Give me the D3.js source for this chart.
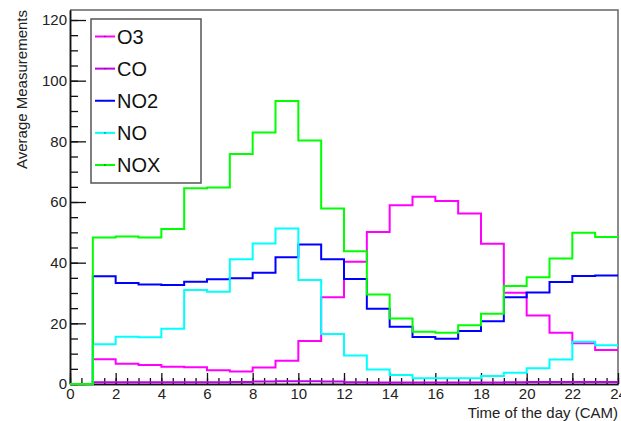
<!DOCTYPE html>
<html>
<head>
<meta charset="utf-8">
<script src="https://cdn.jsdelivr.net/npm/d3@7"></script>
<style>
  body { margin: 0; background: #fff; }
  svg { font-family: "Liberation Sans", Arial, sans-serif; }
</style>
</head>
<body>
<svg width="621" height="421"></svg>
<script>
// hourly bins 0..23
const hours = d3.range(0, 24)
const o3  = [0, 8.2, 6.7, 6.3, 5.7, 5.5, 4.5, 4.1, 5.4, 7.7, 14.2, 28.6, 40.3, 50.1, 58.9, 61.7, 60.3, 56.2, 46.2, 30.1, 22.6, 16.9, 13.4, 11.2]
const co  = [0, 0.6, 0.6, 0.6, 0.6, 0.6, 0.6, 0.7, 0.8, 0.9, 0.9, 0.8, 0.6, 0.5, 0.5, 0.5, 0.5, 0.5, 0.5, 0.6, 0.7, 0.7, 0.7, 0.7]
const no2 = [0, 35.5, 33.3, 32.8, 32.6, 33.7, 34.5, 34.9, 36.7, 41.8, 46.0, 41.1, 34.6, 24.8, 18.9, 15.5, 14.9, 17.5, 20.7, 28.6, 30.2, 33.6, 35.6, 35.8]
const no  = [0, 13.1, 15.6, 15.4, 18.2, 31.0, 30.4, 41.1, 46.3, 51.3, 34.3, 16.5, 9.4, 4.8, 3.0, 1.9, 1.9, 1.9, 2.6, 3.7, 5.2, 8.1, 13.9, 12.8]
const nox = [0, 48.3, 48.6, 48.3, 51.1, 64.5, 64.8, 75.8, 82.9, 93.3, 80.3, 57.9, 43.8, 29.5, 21.6, 17.2, 16.9, 19.4, 23.2, 32.3, 35.2, 41.4, 49.9, 48.5]

const seriesNames = ['O3', 'CO', 'NO2', 'NO', 'NOX']
const seriesData = [o3, co, no2, no, nox]
const seriesColors = ['#ff00ff', '#c000e8', '#0000ff', '#00ffff', '#00ff00']

const xMajor = d3.range(0, 25, 2)
const xMinor = d3.range(0, 24.01, 0.5)
const yMajor = d3.range(0, 121, 20)
const yMinor = d3.range(0, 123, 5)

const svg = d3.select('svg')
const width = +svg.attr('width')
const height = +svg.attr('height')
const margin = { top: 10, right: 3, bottom: 37, left: 70 }
const innerWidth = width - margin.left - margin.right
const innerHeight = height - margin.top - margin.bottom

const xScale = d3.scaleLinear().domain([0, 24]).range([0, innerWidth])
const yScale = d3.scaleLinear().domain([0, 123.3]).range([innerHeight, 0])

const g = svg.append('g')
  .attr('transform', `translate(${margin.left}, ${margin.top})`)

// frame top / right
g.append('path')
  .attr('d', `M0,0H${innerWidth}V${innerHeight}`)
  .attr('fill', 'none')
  .attr('stroke', '#666')
  .attr('stroke-width', 1.5)

// axes
const styleAxis = sel => {
  sel.selectAll('.domain').attr('stroke', '#111').attr('stroke-width', 1.5)
  sel.selectAll('.tick line').attr('stroke', '#111').attr('stroke-width', 1.3)
  sel.selectAll('.tick text').attr('fill', '#222').style('font-size', '15px')
}

g.append('g')
  .call(d3.axisLeft(yScale).tickValues(yMinor).tickSize(-8).tickFormat('').tickSizeOuter(0))
  .call(styleAxis)
  .selectAll('.tick text').remove()
g.append('g')
  .call(d3.axisLeft(yScale).tickValues(yMajor).tickSize(-16).tickPadding(3).tickSizeOuter(0))
  .call(styleAxis)

g.append('g')
  .attr('transform', `translate(0, ${innerHeight})`)
  .call(d3.axisBottom(xScale).tickValues(xMinor).tickSize(-6).tickFormat('').tickSizeOuter(0))
  .call(styleAxis)
  .selectAll('.tick text').remove()
const xAxisG = g.append('g')
  .attr('transform', `translate(0, ${innerHeight})`)
  .call(d3.axisBottom(xScale).tickValues(xMajor).tickSize(-11).tickPadding(4).tickSizeOuter(0))
  .call(styleAxis)

// axis titles
xAxisG.append('text')
  .attr('x', innerWidth)
  .attr('y', 34)
  .attr('text-anchor', 'end')
  .attr('fill', '#222')
  .style('font-size', '15px')
  .text('Time of the day (CAM)')

svg.append('text')
  .attr('transform', 'translate(27, 10) rotate(-90)')
  .attr('text-anchor', 'end')
  .attr('fill', '#222')
  .style('font-size', '15px')
  .text('Average Measurements')

// histograms, drawn over the axes
const line = d3.line()
  .x(d => xScale(d[0]))
  .y(d => yScale(d[1]))
  .curve(d3.curveStepAfter)

seriesData.forEach((vals, i) => {
  const pts = hours.map(h => [h, vals[h]])
  pts.push([24, vals[vals.length - 1]])
  g.append('path')
    .datum(pts)
    .attr('d', line)
    .attr('fill', 'none')
    .attr('stroke', seriesColors[i])
    .attr('stroke-width', 2)
})

// legend
const legend = svg.append('g').attr('transform', 'translate(91, 19)')
legend.append('rect')
  .attr('width', 110).attr('height', 164)
  .attr('fill', '#fff')
  .attr('stroke', '#555')
  .attr('stroke-width', 1.5)

const legendY = d3.scalePoint().domain(seriesNames).range([17.5, 146])
seriesNames.forEach((name, i) => {
  const row = legend.append('g').attr('transform', `translate(0, ${legendY(name)})`)
  row.append('line')
    .attr('x1', 4).attr('x2', 24)
    .attr('stroke', seriesColors[i])
    .attr('stroke-width', 2)
  row.append('circle').attr('cx', 14).attr('r', 0.7).attr('fill', '#333')
  row.append('text')
    .attr('x', 26)
    .attr('dy', '0.36em')
    .attr('fill', '#111')
    .style('font-size', '20px')
    .text(name)
})
</script>
</body>
</html>
